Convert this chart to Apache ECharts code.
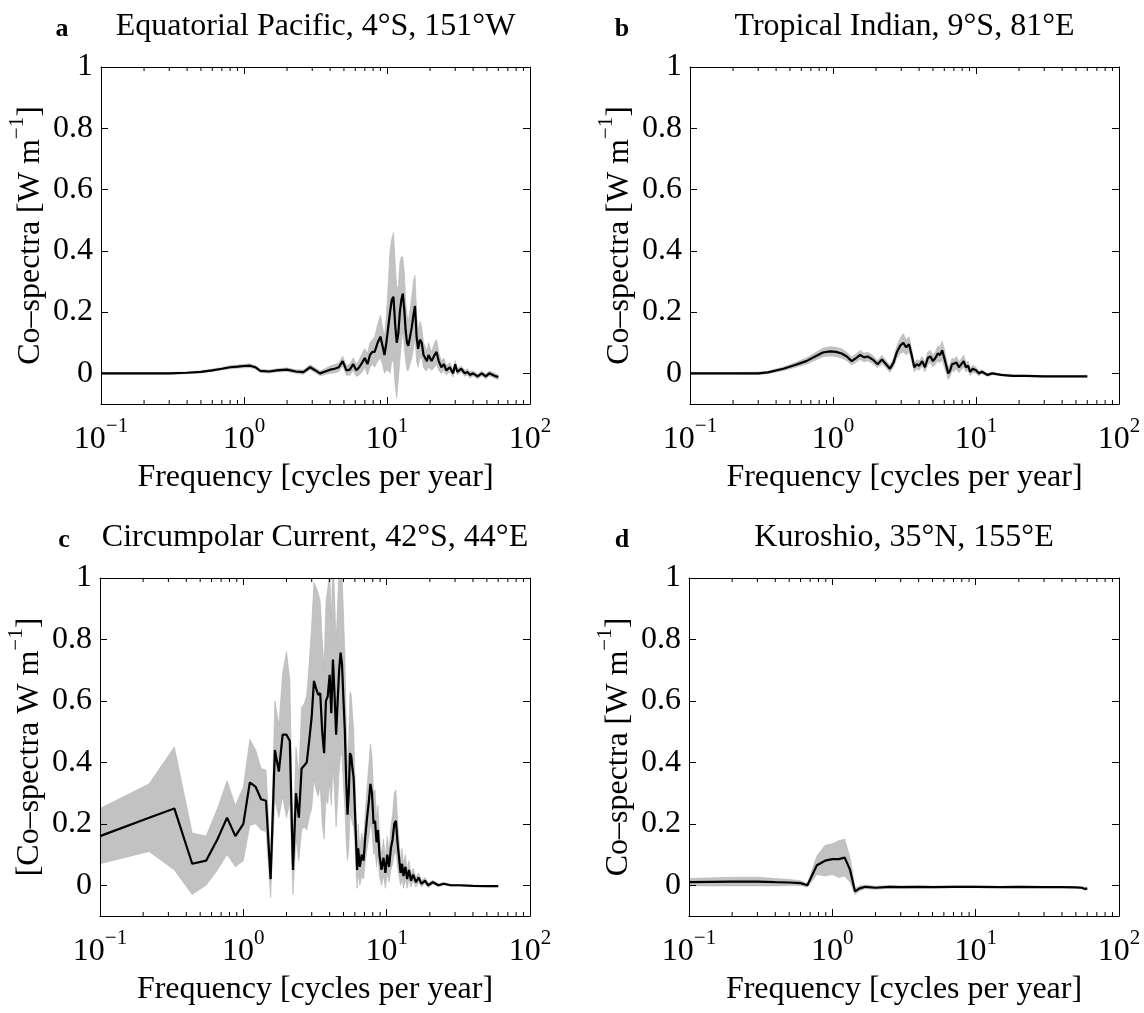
<!DOCTYPE html>
<html>
<head>
<meta charset="utf-8">
<title>co-spectra</title>
<style>
  html, body { margin: 0; padding: 0; background: #fff; }
  #container { width: 1144px; height: 1013px; }
</style>
</head>
<body>
<div id="container"></div>
<script src="https://cdn.jsdelivr.net/npm/echarts@6/dist/echarts.min.js"></script>
<script type="text/javascript">
var FONT = '"Liberation Serif", "DejaVu Serif", serif';

// rows: [frequency (cycles/yr), co-spectrum, half width of grey band]
var pacific = [
  [0.1, 0.0, 0.003], [0.2, 0.0, 0.003], [0.3, 0.0, 0.003], [0.4, 0.002, 0.003],
  [0.5, 0.005, 0.003], [0.6, 0.01, 0.004], [0.7, 0.015, 0.004], [0.8, 0.02, 0.005],
  [0.9, 0.022, 0.005], [1.0, 0.024, 0.006], [1.1, 0.025, 0.006], [1.2, 0.02, 0.006],
  [1.3, 0.008, 0.005], [1.5, 0.006, 0.005], [1.7, 0.01, 0.005], [2.0, 0.012, 0.006],
  [2.3, 0.006, 0.006], [2.6, 0.004, 0.007], [2.9, 0.02, 0.008], [3.1, 0.012, 0.008],
  [3.4, 0.0, 0.008], [3.7, 0.006, 0.01], [4.0, 0.012, 0.012], [4.3, 0.015, 0.014],
  [4.6, 0.02, 0.014], [4.9, 0.04, 0.016], [5.2, 0.01, 0.016], [5.5, 0.012, 0.018],
  [5.8, 0.03, 0.02], [6.1, 0.01, 0.02], [6.4, 0.02, 0.025], [6.7, 0.035, 0.03],
  [7.0, 0.05, 0.03], [7.3, 0.03, 0.035], [7.6, 0.06, 0.04], [7.9, 0.07, 0.04],
  [8.2, 0.07, 0.05], [8.6, 0.1, 0.06], [9.0, 0.12, 0.07], [9.3, 0.09, 0.06],
  [9.6, 0.06, 0.06], [9.9, 0.1, 0.09], [10.2, 0.15, 0.14], [10.5, 0.2, 0.2],
  [10.8, 0.24, 0.2], [11.1, 0.25, 0.21], [11.4, 0.16, 0.2], [11.7, 0.1, 0.18],
  [12.0, 0.13, 0.15], [12.3, 0.2, 0.16], [12.6, 0.24, 0.14], [12.9, 0.26, 0.12],
  [13.2, 0.21, 0.12], [13.5, 0.14, 0.1], [13.8, 0.1, 0.09], [14.1, 0.09, 0.08],
  [14.5, 0.12, 0.09], [14.9, 0.15, 0.1], [15.3, 0.19, 0.11], [15.7, 0.22, 0.1],
  [16.1, 0.12, 0.08], [16.5, 0.08, 0.06], [17.0, 0.11, 0.06], [17.5, 0.1, 0.05],
  [18.0, 0.06, 0.04], [18.5, 0.05, 0.04], [19.0, 0.04, 0.03], [19.5, 0.06, 0.04],
  [20.5, 0.04, 0.03], [21.5, 0.06, 0.04], [22.2, 0.07, 0.04], [23, 0.04, 0.03],
  [24, 0.02, 0.02], [25, 0.03, 0.02], [26, 0.01, 0.015], [27.5, 0.02, 0.015],
  [29, 0.0, 0.012], [30, 0.03, 0.012], [31, 0.005, 0.01], [33, 0.015, 0.01],
  [35, 0.0, 0.01], [36.5, 0.005, 0.01], [38, -0.005, 0.01], [40, 0.0, 0.008],
  [43, -0.01, 0.008], [46, 0.0, 0.008], [49, -0.01, 0.008], [52, 0.0, 0.008],
  [55, -0.005, 0.008], [58, -0.01, 0.008], [60, -0.012, 0.008]
];

var indian = [
  [0.1, 0, 0.003], [0.2, 0, 0.003], [0.3, 0.0, 0.004], [0.35, 0.003, 0.004],
  [0.45, 0.015, 0.006], [0.55, 0.028, 0.008], [0.65, 0.04, 0.01], [0.75, 0.055, 0.012],
  [0.85, 0.068, 0.014], [0.95, 0.072, 0.015], [1.05, 0.07, 0.015], [1.15, 0.065, 0.015],
  [1.25, 0.055, 0.014], [1.35, 0.04, 0.013], [1.45, 0.05, 0.014], [1.55, 0.06, 0.015],
  [1.65, 0.052, 0.014], [1.75, 0.055, 0.014], [1.9, 0.045, 0.013], [2.05, 0.03, 0.012],
  [2.2, 0.045, 0.014], [2.35, 0.03, 0.012], [2.5, 0.015, 0.012], [2.65, 0.035, 0.014],
  [2.8, 0.07, 0.02], [2.95, 0.09, 0.025], [3.1, 0.1, 0.03], [3.25, 0.085, 0.025],
  [3.4, 0.095, 0.025], [3.55, 0.06, 0.02], [3.7, 0.02, 0.015], [3.85, 0.03, 0.015],
  [4.0, 0.025, 0.015], [4.2, 0.04, 0.015], [4.4, 0.02, 0.015], [4.6, 0.05, 0.02],
  [4.8, 0.055, 0.02], [5.0, 0.04, 0.02], [5.2, 0.05, 0.02], [5.4, 0.065, 0.025],
  [5.6, 0.06, 0.025], [5.8, 0.075, 0.03], [6.0, 0.05, 0.03], [6.2, 0.025, 0.025],
  [6.4, 0.0, 0.02], [6.6, 0.01, 0.02], [6.8, 0.03, 0.02], [7.0, 0.025, 0.02],
  [7.3, 0.035, 0.02], [7.6, 0.02, 0.018], [7.9, 0.03, 0.018], [8.2, 0.04, 0.02],
  [8.5, 0.02, 0.015], [8.8, 0.025, 0.015], [9.1, 0.005, 0.012], [9.5, 0.015, 0.012],
  [10, 0.01, 0.01], [10.5, 0.0, 0.008], [11, 0.005, 0.006], [12, -0.005, 0.005],
  [13, 0.0, 0.004], [15, -0.005, 0.003], [18, -0.008, 0.003], [22, -0.008, 0.002],
  [30, -0.01, 0.002], [40, -0.01, 0.002], [50, -0.01, 0.002], [60, -0.01, 0.002]
];

var circumpolar = [
  [0.1, 0.16, 0.09], [0.22, 0.22, 0.11], [0.33, 0.25, 0.2], [0.44, 0.07, 0.1],
  [0.55, 0.08, 0.08], [0.66, 0.15, 0.1], [0.77, 0.22, 0.12], [0.88, 0.16, 0.1],
  [1.0, 0.2, 0.12], [1.11, 0.335, 0.14], [1.22, 0.32, 0.12], [1.33, 0.28, 0.1],
  [1.44, 0.275, 0.1], [1.55, 0.02, 0.06], [1.66, 0.44, 0.16], [1.77, 0.37, 0.15],
  [1.88, 0.49, 0.2], [2.0, 0.49, 0.27], [2.11, 0.47, 0.2], [2.22, 0.05, 0.08],
  [2.33, 0.3, 0.15], [2.44, 0.22, 0.14], [2.55, 0.38, 0.2], [2.66, 0.39, 0.2],
  [2.77, 0.4, 0.22], [2.88, 0.47, 0.25], [3.0, 0.55, 0.3], [3.11, 0.665, 0.32],
  [3.22, 0.64, 0.33], [3.33, 0.62, 0.33], [3.44, 0.625, 0.3], [3.55, 0.5, 0.3],
  [3.66, 0.43, 0.28], [3.77, 0.6, 0.32], [3.88, 0.615, 0.35], [4.0, 0.685, 0.35],
  [4.11, 0.56, 0.3], [4.22, 0.735, 0.35], [4.33, 0.62, 0.32], [4.44, 0.49, 0.3],
  [4.55, 0.6, 0.32], [4.66, 0.7, 0.33], [4.77, 0.757, 0.33], [4.88, 0.72, 0.3],
  [5.0, 0.6, 0.28], [5.11, 0.5, 0.25], [5.22, 0.34, 0.2], [5.33, 0.23, 0.15],
  [5.44, 0.3, 0.18], [5.55, 0.43, 0.2], [5.66, 0.42, 0.2], [5.77, 0.38, 0.18],
  [5.88, 0.35, 0.16], [6.0, 0.25, 0.12], [6.11, 0.15, 0.1], [6.22, 0.05, 0.06],
  [6.33, 0.12, 0.08], [6.5, 0.06, 0.06], [6.7, 0.1, 0.07], [6.9, 0.08, 0.06],
  [7.1, 0.16, 0.08], [7.3, 0.22, 0.1], [7.5, 0.27, 0.12], [7.7, 0.33, 0.13],
  [7.9, 0.3, 0.12], [8.1, 0.2, 0.1], [8.3, 0.21, 0.1], [8.5, 0.14, 0.08],
  [8.7, 0.18, 0.08], [8.9, 0.1, 0.07], [9.2, 0.05, 0.05], [9.5, 0.09, 0.06],
  [9.8, 0.04, 0.05], [10.1, 0.1, 0.06], [10.4, 0.06, 0.05], [10.7, 0.12, 0.07],
  [11.0, 0.15, 0.08], [11.3, 0.2, 0.1], [11.6, 0.21, 0.1], [11.9, 0.14, 0.08],
  [12.2, 0.09, 0.06], [12.5, 0.04, 0.04], [12.8, 0.07, 0.05], [13.1, 0.03, 0.04],
  [13.5, 0.06, 0.04], [13.9, 0.02, 0.03], [14.3, 0.05, 0.03], [14.8, 0.015, 0.02],
  [15.3, 0.035, 0.02], [16, 0.01, 0.015], [16.7, 0.025, 0.015], [17.5, 0.005, 0.01],
  [18.5, 0.015, 0.01], [19.5, 0.0, 0.008], [21, 0.01, 0.006], [23, 0.0, 0.005],
  [25, 0.005, 0.004], [28, 0.0, 0.003], [32, 0.0, 0.002], [40, -0.002, 0.002],
  [50, -0.003, 0.002], [60, -0.003, 0.002]
];

var kuroshio = [
  [0.1, 0.01, 0.012], [0.2, 0.012, 0.014], [0.3, 0.012, 0.014], [0.4, 0.01, 0.012],
  [0.5, 0.009, 0.01], [0.6, 0.007, 0.008], [0.67, 0.0, 0.006], [0.78, 0.065, 0.03],
  [0.89, 0.08, 0.05], [1.0, 0.085, 0.05], [1.11, 0.085, 0.06], [1.22, 0.09, 0.06],
  [1.33, 0.05, 0.04], [1.44, -0.02, 0.01], [1.55, -0.01, 0.008], [1.7, -0.005, 0.006],
  [2.0, -0.008, 0.005], [2.5, -0.005, 0.004], [3, -0.006, 0.004], [4, -0.005, 0.003],
  [5, -0.006, 0.003], [7, -0.005, 0.003], [10, -0.005, 0.003], [15, -0.006, 0.002],
  [20, -0.005, 0.002], [30, -0.006, 0.002], [40, -0.006, 0.002], [50, -0.007, 0.002],
  [55, -0.008, 0.003], [58, -0.012, 0.004], [60, -0.01, 0.004]
];

var yTicks = [0, 0.2, 0.4, 0.6, 0.8, 1];
var minorTicks = [0.2, 0.3, 0.4, 0.5, 0.6, 0.7, 0.8, 0.9,
                  2, 3, 4, 5, 6, 7, 8, 9,
                  20, 30, 40, 50, 60, 70, 80, 90];

var panels = [
  { letter: 'a', title: 'Equatorial Pacific, 4°S, 151°W', ylabel: '{n|Co–spectra [W m}{s|−1}{n|]}',
    rows: pacific, grid: { left: 101, top: 67, width: 429, height: 337 }, letterX: 62 },
  { letter: 'b', title: 'Tropical Indian, 9°S, 81°E', ylabel: '{n|Co–spectra [W m}{s|−1}{n|]}',
    rows: indian, grid: { left: 690, top: 67, width: 429, height: 337 }, letterX: 622 },
  { letter: 'c', title: 'Circumpolar Current, 42°S, 44°E', ylabel: '{n|[Co–spectra W m}{s|−1}{n|]}',
    rows: circumpolar, grid: { left: 100, top: 578, width: 430, height: 338 }, letterX: 64 },
  { letter: 'd', title: 'Kuroshio, 35°N, 155°E', ylabel: '{n|Co–spectra [W m}{s|−1}{n|]}',
    rows: kuroshio, grid: { left: 689, top: 578, width: 430, height: 338 }, letterX: 622 }
];

function decadeLabel(v) {
  var e = Math.round(Math.log(v) / Math.LN10);
  return '{b|10}{e|' + (e < 0 ? '−' + (-e) : e) + '}';
}

function bandRenderer(rows) {
  return function (params, api) {
    var upper = rows.map(function (r) { return api.coord([r[0], r[1] + r[2]]); });
    var lower = rows.map(function (r) { return api.coord([r[0], r[1] - r[2]]); }).reverse();
    return {
      type: 'polygon',
      shape: { points: upper.concat(lower) },
      style: { fill: '#c2c2c2', stroke: '#b4b4b4', lineWidth: 0.6 }
    };
  };
}

function minorTickRenderer(params, api) {
  var f = api.value(0);
  var b = api.coord([f, -0.1]);
  var t = api.coord([f, 1]);
  return {
    type: 'group',
    children: [
      { type: 'line', shape: { x1: b[0], y1: b[1], x2: b[0], y2: b[1] - 4 }, style: { stroke: '#000', lineWidth: 1 } },
      { type: 'line', shape: { x1: t[0], y1: t[1], x2: t[0], y2: t[1] + 4 }, style: { stroke: '#000', lineWidth: 1 } }
    ]
  };
}

var axisLine = { show: true, onZero: false, lineStyle: { color: '#000', width: 1 } };
var tick = { show: true, inside: true, length: 7, lineStyle: { color: '#000', width: 1 } };

var option = { animation: false, backgroundColor: '#fff', grid: [], xAxis: [], yAxis: [], series: [], graphic: [] };

panels.forEach(function (p, i) {
  var g = p.grid;
  option.grid.push({ left: g.left, top: g.top, width: g.width, height: g.height, outerBoundsMode: 'none' });

  option.xAxis.push({
    type: 'log', logBase: 10, gridIndex: i, min: 0.1, max: 100, position: 'bottom', z: 10,
    axisLine: axisLine, axisTick: tick, splitLine: { show: false }, minorTick: { show: false },
    axisLabel: {
      margin: 12, color: '#000', formatter: decadeLabel,
      rich: {
        b: { fontFamily: FONT, fontSize: 32, lineHeight: 48, color: '#000' },
        e: { fontFamily: FONT, fontSize: 21, lineHeight: 20, verticalAlign: 'top', color: '#000' }
      }
    },
    name: 'Frequency [cycles per year]', nameLocation: 'middle', nameGap: 58, nameMoveOverlap: false,
    nameTextStyle: { fontFamily: FONT, fontSize: 32, color: '#000' }
  });
  option.xAxis.push({
    type: 'log', logBase: 10, gridIndex: i, min: 0.1, max: 100, position: 'top', z: 10,
    axisLine: axisLine, axisTick: tick, axisLabel: { show: false }, splitLine: { show: false }
  });

  option.yAxis.push({
    type: 'value', gridIndex: i, min: -0.1, max: 1, position: 'left', z: 10,
    axisLine: axisLine, splitLine: { show: false },
    axisTick: { show: true, inside: true, length: 7, customValues: yTicks, lineStyle: { color: '#000' } },
    axisLabel: {
      customValues: yTicks, margin: 8, color: '#000', fontFamily: FONT, fontSize: 32,
      formatter: function (v) { return String(v); }
    },
    name: p.ylabel, nameLocation: 'middle', nameRotate: 90, nameGap: 46, nameMoveOverlap: false,
    nameTextStyle: {
      color: '#000',
      rich: {
        n: { fontFamily: FONT, fontSize: 32, lineHeight: 48, color: '#000' },
        s: { fontFamily: FONT, fontSize: 21, lineHeight: 20, verticalAlign: 'top', color: '#000' }
      }
    }
  });
  option.yAxis.push({
    type: 'value', gridIndex: i, min: -0.1, max: 1, position: 'right', z: 10,
    axisLine: axisLine, splitLine: { show: false }, axisLabel: { show: false },
    axisTick: { show: true, inside: true, length: 7, customValues: yTicks, lineStyle: { color: '#000' } }
  });

  var xi = 2 * i, yi = 2 * i;
  option.series.push({
    type: 'custom', xAxisIndex: xi, yAxisIndex: yi, clip: true, silent: true, z: 1,
    data: [[1, 0]], renderItem: bandRenderer(p.rows)
  });
  option.series.push({
    type: 'line', xAxisIndex: xi, yAxisIndex: yi, showSymbol: false, silent: true, z: 3,
    data: p.rows.map(function (r) { return [r[0], r[1]]; }),
    lineStyle: { color: '#000', width: 2.2 }
  });
  option.series.push({
    type: 'custom', xAxisIndex: xi, yAxisIndex: yi, silent: true, z: 11,
    data: minorTicks.map(function (f) { return [f, 0]; }), renderItem: minorTickRenderer
  });

  option.graphic.push({
    type: 'text', x: p.letterX, y: g.top - 38,
    style: { text: p.letter, font: 'bold 26px ' + FONT, fill: '#000', align: 'center', verticalAlign: 'middle' }
  });
  option.graphic.push({
    type: 'text', x: g.left + g.width / 2, y: g.top - 40,
    style: { text: p.title, font: '32px ' + FONT, fill: '#000', align: 'center', verticalAlign: 'middle' }
  });
});

var myChart = echarts.init(document.getElementById('container'), null, { renderer: 'canvas' });
myChart.setOption(option);
</script>
</body>
</html>
